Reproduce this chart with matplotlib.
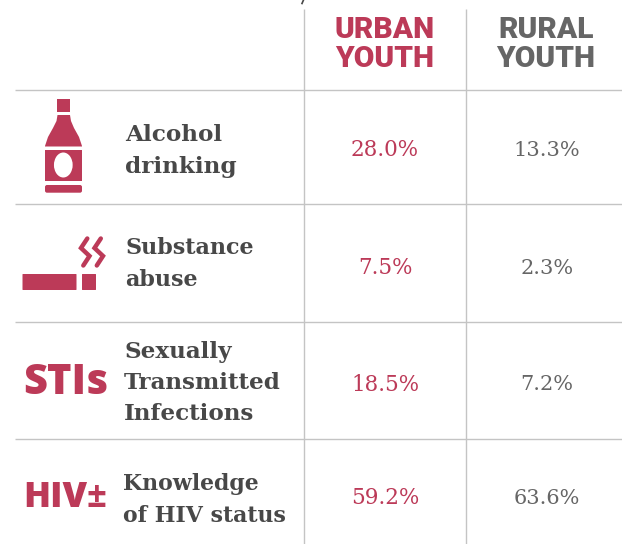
import matplotlib
matplotlib.use("Agg")
import matplotlib.pyplot as plt
from matplotlib.patches import Rectangle, FancyBboxPatch, Ellipse, Polygon

# Data
columns = ["URBAN\nYOUTH", "RURAL\nYOUTH"]
labels = ["Alcohol\ndrinking", "Substance\nabuse", "Sexually\nTransmitted\nInfections", "Knowledge\nof HIV status"]
urban = [28.0, 7.5, 18.5, 59.2]
rural = [13.3, 2.3, 7.2, 63.6]

red = "#bc3a58"
gray = "#666666"
dark = "#484848"
line = "#c4c4c4"
serif = "DejaVu Serif"

fig = plt.figure(figsize=(6.22, 5.44), dpi=100)
ax = fig.add_axes([0, 0, 1, 1])
ax.set_xlim(0, 622)
ax.set_ylim(544, 0)
ax.axis("off")

# Grid lines
for y in [89.7, 204.3, 321.7, 438.7]:
    ax.plot([15, 622], [y, y], color=line, lw=1.0, solid_capstyle="butt")
for x in [304.3, 466.3]:
    ax.plot([x, x], [9, 544], color=line, lw=1.0, solid_capstyle="butt")

# Clipped mark at the top edge
ax.plot([303.5, 302], [0, 3.5], color=dark, lw=1.2)

# Column headers
for x, name, col in [(385, columns[0], red), (546, columns[1], gray)]:
    ax.text(x, 44.5, name, color=col, family="Roboto", weight="black", size=21.5,
            ha="center", va="center", linespacing=1.05)

# Row labels
label_x = [125, 125.5, 124, 123]
label_y = [151, 264, 383, 500]
label_size = [16.7, 16, 16.6, 15.8]
for i, lab in enumerate(labels):
    ax.text(label_x[i], label_y[i], lab, color=dark, family=serif, weight="bold",
            size=label_size[i], ha="left", va="center", linespacing=1.55)

# Values
val_y = [150, 268, 385, 498]
for i in range(4):
    ax.text(385, val_y[i], f"{urban[i]:.1f}%", color=red, family=serif, size=15.5, ha="center", va="center")
    ax.text(547, val_y[i], f"{rural[i]:.1f}%", color=gray, family=serif, size=15, ha="center", va="center")

# Bottle icon
ax.add_patch(Rectangle((57, 99), 13, 13, color=red, lw=0))
ax.add_patch(Polygon([(57.5, 115), (70, 115), (71, 121), (74, 128), (79, 137), (82, 146), (82, 146.5), (45, 146.5),
                      (45, 146), (48, 137), (53, 128), (56.5, 121)], color=red, lw=0))
ax.add_patch(Rectangle((45, 150), 37, 30.7, color=red, lw=0))
ax.add_patch(Ellipse((63.3, 165), 18.7, 25, color="white", lw=0))
ax.add_patch(FancyBboxPatch((47, 187), 33, 3.7, boxstyle="round,pad=2", color=red, lw=0))

# Cigarette icon
ax.add_patch(FancyBboxPatch((23, 274.5), 53, 15, boxstyle="round,pad=0.5", color=red, lw=0))
ax.add_patch(FancyBboxPatch((82.5, 274.5), 13, 15, boxstyle="round,pad=0.5", color=red, lw=0))
for dx in [0, 13.5]:
    ax.plot([87.3 + dx, 81 + dx, 89.5 + dx, 83.3 + dx], [238.5, 248, 256, 265.5],
            color=red, lw=3.2, solid_capstyle="round", solid_joinstyle="miter")

# Text icons
ax.text(23, 382.5, "STIs", color=red, family="Open Sans", weight="extra bold", size=30, ha="left", va="center")
ax.text(23, 498, "HIV", color=red, family="Open Sans", weight="extra bold", size=25.5, ha="left", va="center")
ax.text(96.5, 498, "±", color=red, family="Open Sans", weight="bold", size=25, ha="center", va="center")

fig.savefig("out.png", dpi=100)
